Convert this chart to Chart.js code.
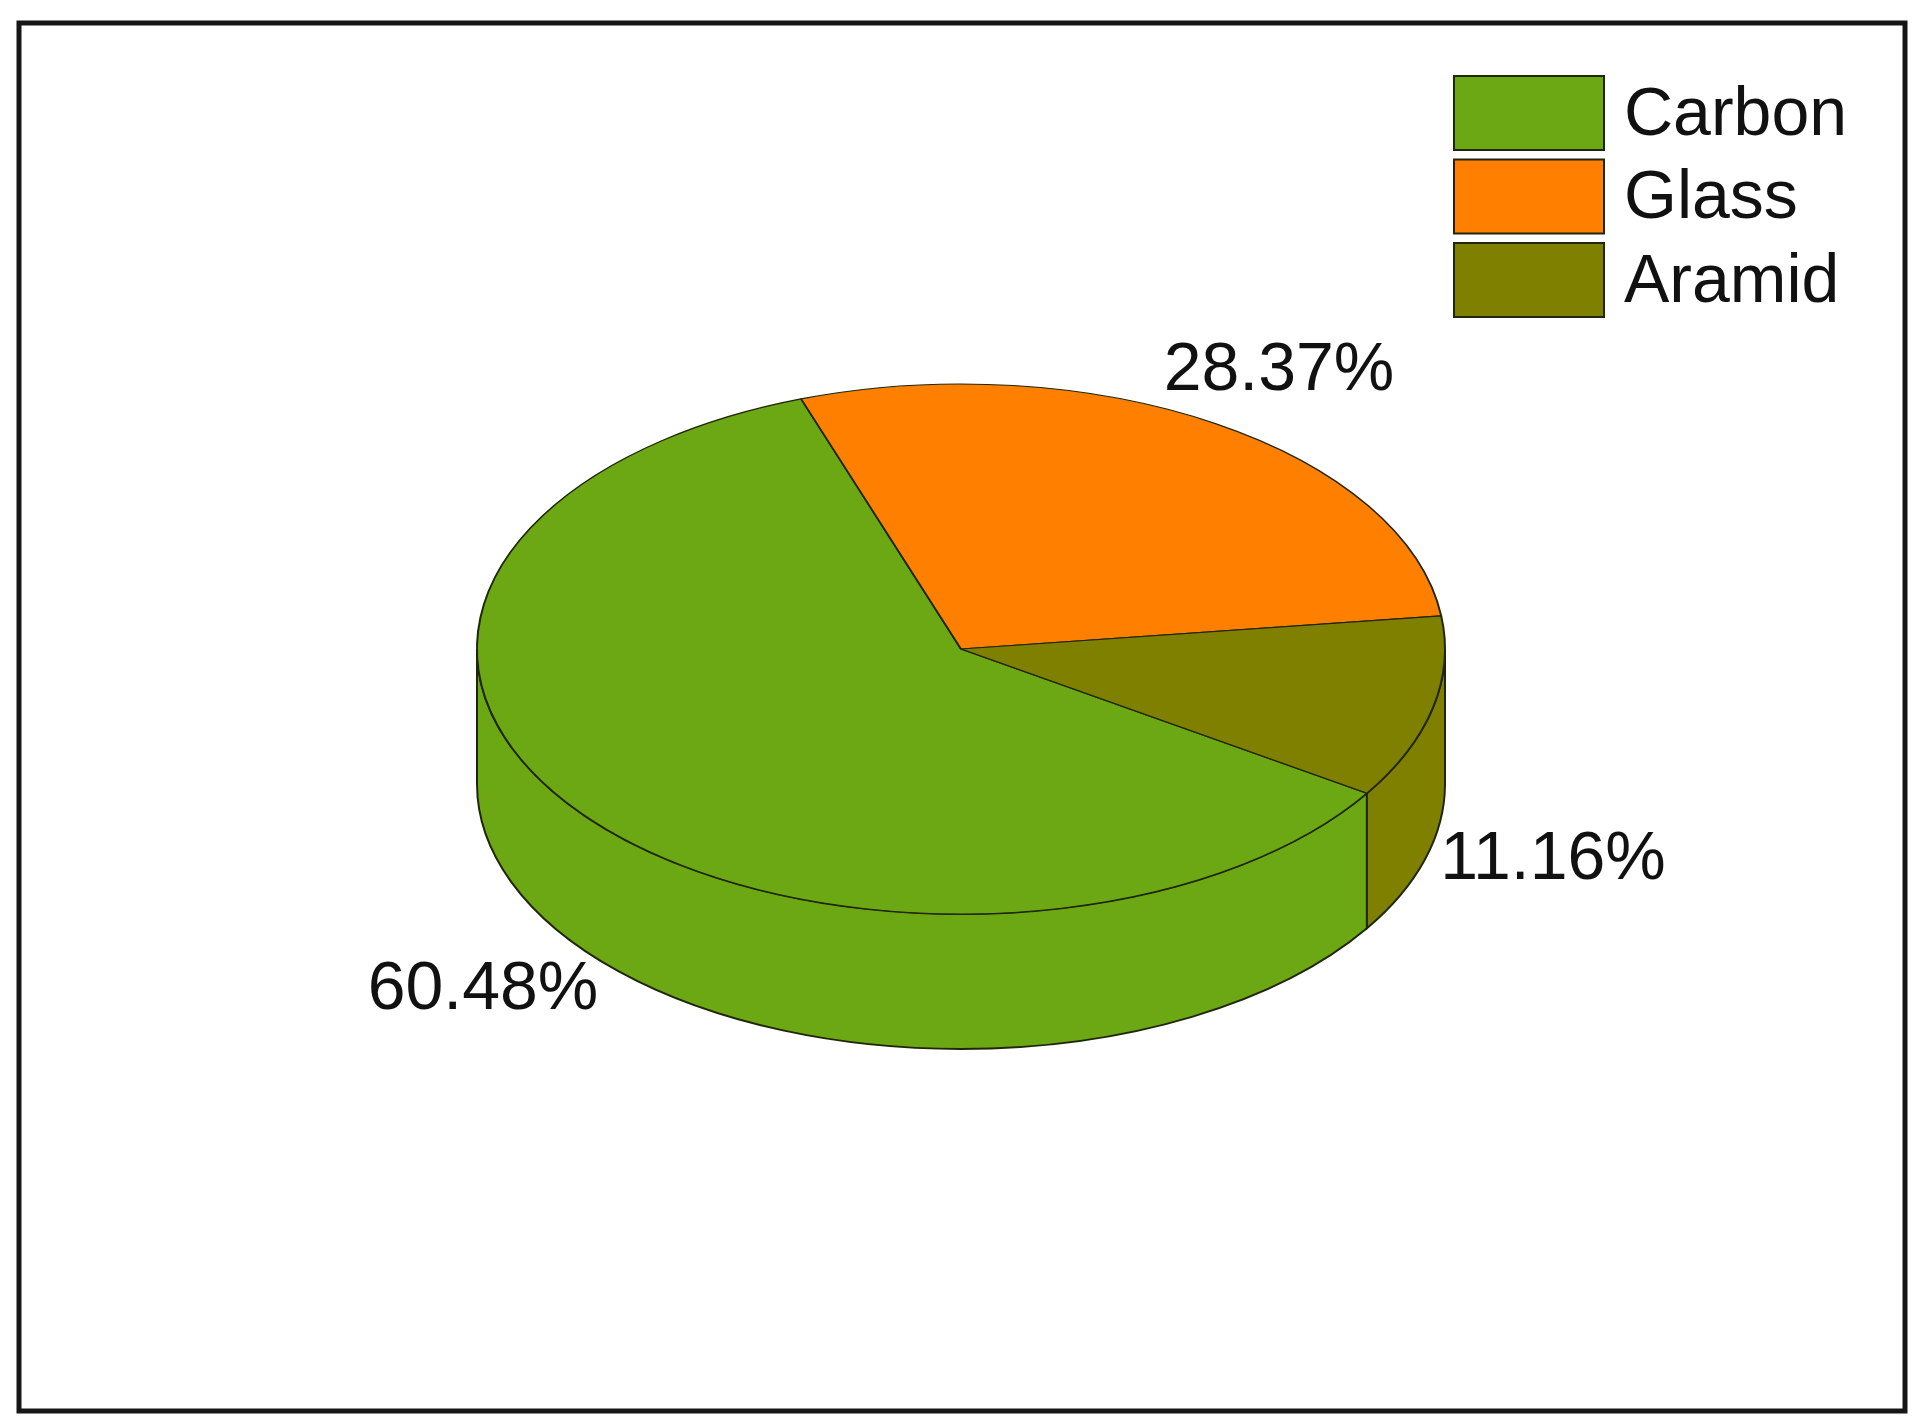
<!DOCTYPE html>
<html>
<head>
<meta charset="utf-8">
<title>Fibre share</title>
<script src="https://cdn.jsdelivr.net/npm/chart.js@4"></script>
<style>
  html, body { margin: 0; padding: 0; background: #fff; }
  canvas { display: block; }
</style>
</head>
<body>
<canvas id="chartPie" width="1923" height="1427"></canvas>
<script>
const categories = ["Carbon", "Glass", "Aramid"];
const shares = [60.48, 28.37, 11.16];
const sliceColors = ["#6ca813", "#ff8000", "#808000"];

const edgeColor = "#20260a";
const textColor = "#111";
const fontFamily = '"Liberation Sans", Arial, sans-serif';
const squash = 265 / 484; // tilt of the pie
const depth = 135; // height of the side wall

// where the percent labels sit, same order as categories
const labelAnchors = [
  { x: 483, y: 990 },
  { x: 1279, y: 371 },
  { x: 1553, y: 860 },
];

const framePlugin = {
  id: "frame",
  beforeDraw(chart) {
    const ctx = chart.ctx;
    ctx.save();
    ctx.fillStyle = "#fff";
    ctx.fillRect(0, 0, chart.width, chart.height);
    ctx.strokeStyle = "#161616";
    ctx.lineWidth = 5;
    ctx.strokeRect(19, 23, 1886, 1388);
    ctx.restore();
  },
};

// side wall under the front half of every slice, then tilt the arcs
const tiltPlugin = {
  id: "tilt",
  beforeDatasetsDraw(chart) {
    const ctx = chart.ctx;
    const arcs = chart.getDatasetMeta(0).data;
    ctx.save();
    arcs.forEach((arc, i) => {
      const rx = arc.outerRadius;
      const ry = rx * squash;
      for (let turn = -1; turn <= 1; turn++) {
        const from = Math.max(arc.startAngle + turn * 2 * Math.PI, 0);
        const to = Math.min(arc.endAngle + turn * 2 * Math.PI, Math.PI);
        if (from >= to) continue;
        ctx.beginPath();
        ctx.ellipse(arc.x, arc.y, rx, ry, 0, from, to);
        ctx.ellipse(arc.x, arc.y + depth, rx, ry, 0, to, from, true);
        ctx.closePath();
        ctx.fillStyle = sliceColors[i];
        ctx.fill();
        ctx.strokeStyle = edgeColor;
        ctx.lineWidth = 2;
        ctx.stroke();
      }
    });
    ctx.restore();

    const y = arcs[0].y;
    ctx.save();
    ctx.translate(0, y);
    ctx.scale(1, squash);
    ctx.translate(0, -y);
  },
  afterDatasetsDraw(chart) {
    chart.ctx.restore();
  },
};

const textPlugin = {
  id: "texts",
  afterDraw(chart) {
    const ctx = chart.ctx;
    ctx.save();
    ctx.font = `68px ${fontFamily}`;
    ctx.fillStyle = textColor;
    ctx.textAlign = "center";
    ctx.textBaseline = "middle";
    shares.forEach((v, i) => {
      ctx.fillText(`${v.toFixed(2)}%`, labelAnchors[i].x, labelAnchors[i].y);
    });

    // legend
    ctx.textAlign = "left";
    categories.forEach((name, i) => {
      const top = 76 + i * 83.5;
      ctx.fillStyle = sliceColors[i];
      ctx.fillRect(1454, top, 150, 74);
      ctx.strokeStyle = edgeColor;
      ctx.lineWidth = 2;
      ctx.strokeRect(1454, top, 150, 74);
      ctx.fillStyle = textColor;
      ctx.fillText(name, 1624, top + 40);
    });
    ctx.restore();
  },
};

new Chart(document.querySelector("#chartPie"), {
  type: "pie",
  data: {
    labels: categories,
    datasets: [
      {
        data: shares,
        backgroundColor: sliceColors,
        borderColor: edgeColor,
        borderWidth: 2,
        clip: false,
      },
    ],
  },
  options: {
    responsive: false,
    animation: false,
    rotation: 123,
    layout: { padding: { left: 476, right: 477, top: 164, bottom: 293 } },
    plugins: {
      legend: { display: false },
      tooltip: { enabled: false },
    },
  },
  plugins: [framePlugin, tiltPlugin, textPlugin],
});
</script>
</body>
</html>
